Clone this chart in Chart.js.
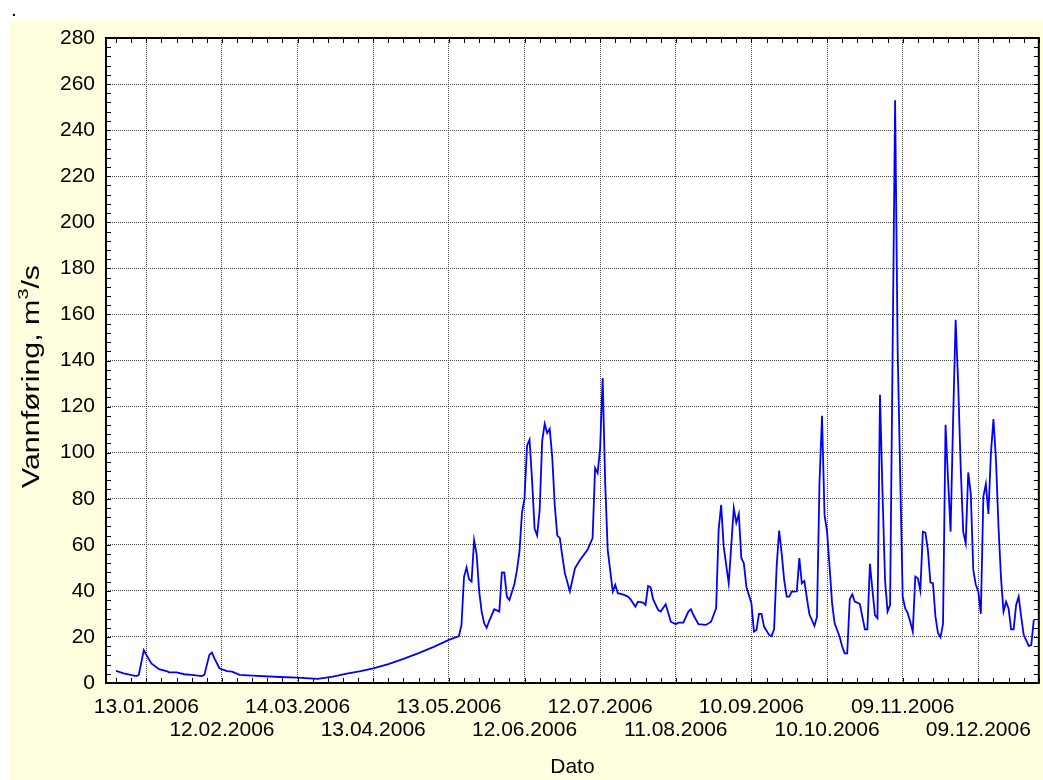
<!DOCTYPE html>
<html>
<head>
<meta charset="utf-8">
<script src="https://cdn.jsdelivr.net/npm/chart.js@4.4.0/dist/chart.umd.min.js"></script>
<style>
  html, body { margin: 0; padding: 0; background: #fff; }
  #wrap { position: relative; width: 1043px; height: 780px; }
  #dot { position: absolute; left: 11px; top: -3px; font: 21px "Liberation Sans", Arial, sans-serif; color: #000; }
</style>
</head>
<body>
<div id="wrap">
  <canvas id="flowChart" width="1043" height="780"></canvas>
  <div id="dot">.</div>
</div>
<script>
// day number counted from 01.01.2006 (0 = 01.01.2006)
const days = [
  0, 3, 8, 9, 11, 12, 14, 17, 20, 21, 24, 27, 30, 34, 35, 37, 38, 39, 41, 44,
  46, 49, 54, 65, 72, 80, 86, 91, 97, 102, 108, 114, 120, 126, 132, 136, 137, 138, 139, 140,
  141, 142, 143, 144, 145, 146, 147, 148, 150, 152, 153, 154, 155, 156, 158, 159, 160, 161, 162, 163,
  164, 165, 166, 167, 168, 169, 170, 171, 172, 173, 174, 175, 176, 177, 178, 180, 182, 184, 187, 189,
  190, 191, 192, 193, 194, 195, 197, 198, 199, 201, 203, 204, 206, 207, 209, 210, 211, 212, 213, 215,
  216, 218, 219, 220, 222, 223, 225, 227, 228, 229, 231, 234, 236, 238, 239, 240, 241, 243, 245, 246,
  247, 248, 249, 250, 252, 253, 254, 255, 256, 257, 259, 260, 261, 262, 263, 264, 265, 266, 267, 268,
  270, 271, 272, 273, 274, 275, 277, 278, 279, 280, 281, 282, 283, 284, 285, 287, 288, 289, 290, 291,
  292, 293, 295, 296, 297, 298, 299, 300, 301, 302, 303, 304, 305, 306, 307, 309, 310, 312, 313, 314,
  315, 316, 317, 318, 319, 320, 321, 322, 323, 324, 325, 326, 327, 328, 329, 330, 331, 332, 333, 334,
  335, 336, 337, 338, 339, 340, 341, 342, 343, 344, 345, 346, 347, 348, 349, 350, 351, 352, 353, 354,
  355, 356, 357, 358, 359, 360, 362, 363, 364
];
// Vannføring, m3/s
const flow = [
  5.3, 4.2, 3.0, 3.5, 14.3, 12.2, 8.5, 6.0, 5.2, 4.6, 4.6, 3.8, 3.5, 3.0, 3.5, 12.2, 13.2, 10.7, 6.4, 5.2,
  4.9, 3.5, 3.2, 2.6, 2.3, 1.8, 2.8, 4.0, 5.2, 6.4, 8.2, 10.5, 13.0, 15.7, 18.7, 20.4, 25.2, 46, 50.2, 45,
  44, 62, 56, 40, 31, 26, 24, 27, 32, 31, 48, 47.9, 37.5, 36, 43, 49, 57, 74, 80, 103,
  105.6, 88, 67, 64, 75, 105, 112.5, 108.5, 110.3, 98, 77, 64, 63, 55, 47.7, 39.7, 49.8, 53.4, 57.8, 62.9,
  93.3, 91.1, 102, 132.4, 86.8, 57.8, 39.7, 42.6, 39, 38.5, 37.5, 36.4, 33.1, 35.3, 34.9, 33.9, 42.1, 41.6, 36.4, 31.7,
  31, 34.2, 30.5, 26.6, 25.5, 26.2, 26.2, 31, 32, 29.5, 25.5, 25.2, 26.6, 32.4, 66.5, 77.3, 59.2, 43.3, 75.9, 69.6,
  73.4, 54.2, 52, 41.8, 34.6, 22.3, 23, 30, 30, 24.5, 20.9, 20.4, 23.3, 50.5, 66.2, 56.3, 44.7, 37.5, 37.5, 39.7,
  39.8, 54.2, 43.3, 44.3, 36.8, 29.8, 24.8, 28.8, 86.8, 116, 73, 65.7, 50.5, 34.6, 25.9, 20.1, 15.8, 12.9, 12.9, 36.4,
  38.5, 35.3, 34.3, 28.8, 23.3, 23.3, 51.7, 40.4, 29.5, 28.1, 125.1, 82.4, 44.7, 31, 33.9, 253, 144.7, 37.5, 32.4, 30.3,
  26.6, 22.3, 46.2, 45.5, 40.1, 65.7, 65.3, 57.8, 43.6, 43.3, 28.8, 21.6, 19.9, 25.6, 112.1, 88.2, 65.7, 114.2, 157.7, 130.2,
  94, 65.7, 60.7, 91.4, 82.4, 49.1, 42.6, 39.7, 30, 80.9, 86.4, 73.4, 99.8, 114.6, 96.9, 67.9, 45.5, 31, 35.3, 32.4,
  23.3, 23.3, 33.9, 37.5, 28.8, 20.9, 16.1, 16.5, 27.4
];
const tickDays = [12, 42, 72, 102, 132, 162, 192, 222, 252, 282, 312, 342];
const tickLabels = ['13.01.2006', '12.02.2006', '14.03.2006', '13.04.2006', '13.05.2006', '12.06.2006',
                    '12.07.2006', '11.08.2006', '10.09.2006', '10.10.2006', '09.11.2006', '09.12.2006'];
const yTicks = [0, 20, 40, 60, 80, 100, 120, 140, 160, 180, 200, 220, 240, 260, 280];

const FONT = '"Liberation Sans", Arial, sans-serif';

const frame = {
  id: 'frame',
  beforeDraw(chart) {
    const { ctx, chartArea: a } = chart;
    ctx.save();
    ctx.fillStyle = '#ffffff';
    ctx.fillRect(0, 0, chart.width, chart.height);
    ctx.fillStyle = '#ffffe0';
    ctx.fillRect(10, 20, chart.width - 10, chart.height - 20);
    ctx.fillStyle = '#ffffff';
    ctx.fillRect(a.left, a.top, a.right - a.left, a.bottom - a.top);
    ctx.restore();
  },
  afterDraw(chart) {
    const { ctx, chartArea: a, scales: { x, y } } = chart;
    ctx.save();
    ctx.strokeStyle = '#000';
    ctx.lineWidth = 1;
    ctx.beginPath();
    // minor ticks every 6 days / every 4 units, pointing inwards
    for (let d = 0; d <= 366; d += 6) {
      const px = Math.round(x.getPixelForValue(d)) + 0.5;
      ctx.moveTo(px, a.top); ctx.lineTo(px, a.top + 5);
      ctx.moveTo(px, a.bottom); ctx.lineTo(px, a.bottom - 5);
    }
    for (let v = 0; v <= 280; v += 4) {
      const py = Math.round(y.getPixelForValue(v)) + 0.5;
      ctx.moveTo(a.left, py); ctx.lineTo(a.left + 5, py);
      ctx.moveTo(a.right, py); ctx.lineTo(a.right - 5, py);
    }
    ctx.stroke();
    ctx.lineWidth = 2;
    ctx.strokeRect(a.left, a.top, a.right - a.left, a.bottom - a.top);

    // y axis title (stretched along its length like the original), with a raised "3"
    const parts = [['Vannføring, m', 23, 0], ['3', 15, -9], ['/s', 23, 0]];
    const titleLength = 223;
    ctx.fillStyle = '#000';
    ctx.textBaseline = 'middle';
    ctx.textAlign = 'left';
    let w = 0;
    parts.forEach(p => { ctx.font = p[1] + 'px ' + FONT; p.push(ctx.measureText(p[0]).width); w += p[3]; });
    ctx.translate(33, 376.5);
    ctx.rotate(-Math.PI / 2);
    ctx.scale(titleLength / w, 1);
    let cx = -w / 2;
    parts.forEach(p => {
      ctx.font = p[1] + 'px ' + FONT;
      ctx.fillText(p[0], cx, p[2]);
      cx += p[3];
    });
    ctx.restore();
  }
};

new Chart(document.getElementById('flowChart'), {
  type: 'line',
  data: {
    datasets: [{
      data: days.map((d, i) => ({ x: d, y: flow[i] })),
      borderColor: '#0000ff',
      borderWidth: 1.8,
      pointRadius: 0,
      tension: 0,
      fill: false
    }]
  },
  options: {
    responsive: false,
    devicePixelRatio: 1,
    animation: false,
    layout: { padding: { top: 38, right: 2, left: 0, bottom: 0 } },
    plugins: { legend: { display: false }, tooltip: { enabled: false } },
    scales: {
      x: {
        type: 'linear',
        min: -4,
        max: 366,
        afterBuildTicks: s => { s.ticks = tickDays.map(v => ({ value: v })); },
        afterFit: s => { s.height = 97; },
        ticks: {
          autoSkip: false,
          maxRotation: 0,
          padding: 12,
          color: '#000',
          font: { family: FONT, size: 21, lineHeight: 1.12 },
          callback: (v, i) => (i % 2 ? ['', tickLabels[i]] : tickLabels[i])
        },
        grid: { color: '#4a4a4a', lineWidth: 1, drawTicks: false },
        border: { display: false, dash: [1, 1] },
        title: { display: true, text: 'Dato', color: '#000', font: { family: FONT, size: 21, lineHeight: 1.2 }, padding: { top: 0, bottom: 0.5 } }
      },
      y: {
        min: 0,
        max: 280,
        afterBuildTicks: s => { s.ticks = yTicks.map(v => ({ value: v })); },
        afterFit: s => { s.width = 106; },
        ticks: { padding: 11, color: '#000', font: { family: FONT, size: 21 } },
        grid: { color: '#4a4a4a', lineWidth: 1, drawTicks: false },
        border: { display: false, dash: [1, 1] },
        title: { display: false }
      }
    }
  },
  plugins: [frame]
});
</script>
</body>
</html>
